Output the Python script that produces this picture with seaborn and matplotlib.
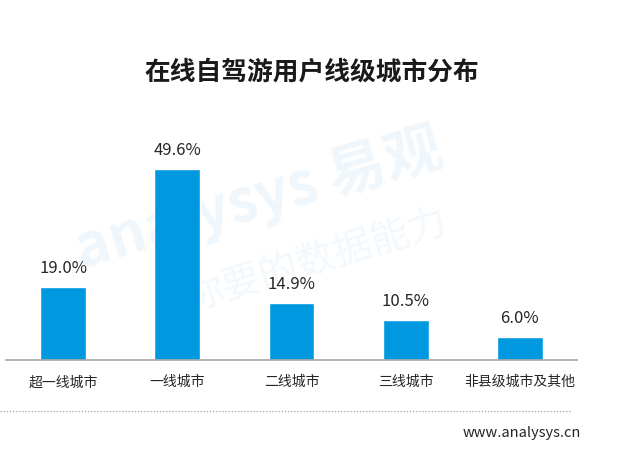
import matplotlib
matplotlib.use("Agg")
import matplotlib.pyplot as plt
import seaborn as sns
import pandas as pd

cities = ["超一线城市", "一线城市", "二线城市", "三线城市", "非县级城市及其他"]
shares = [19.0, 49.6, 14.9, 10.5, 6.0]
labels = ["19.0%", "49.6%", "14.9%", "10.5%", "6.0%"]

sns.set_style("white")
plt.rcParams["font.family"] = ["Noto Sans CJK SC", "DejaVu Sans"]

df = pd.DataFrame({"city": cities, "share": shares})

fig = plt.figure(figsize=(6.33, 4.49), dpi=100)
ax = fig.add_axes([6 / 633, 1 - 360 / 449, 571 / 633, 260 / 449])
ax.set_facecolor("none")

sns.barplot(data=df, x="city", y="share", color="#0098DF", saturation=1,
            width=0.4, ax=ax)

for i, (v, lab) in enumerate(zip(shares, labels)):
    ax.annotate(lab, (i, v), xytext=(0, 7), textcoords="offset points",
                ha="center", va="bottom", fontsize=12, color="#262626")

ax.set_xlim(-0.5, 4.5)
ax.set_ylim(0, 67.5)
ax.set_xlabel("")
ax.set_ylabel("")
ax.set_yticks([])
for s in ["top", "right", "left"]:
    ax.spines[s].set_visible(False)
ax.spines["bottom"].set_color("#a6a6a6")
ax.spines["bottom"].set_linewidth(1.2)
ax.tick_params(axis="x", length=0, pad=11, labelsize=10, labelcolor="#262626")

# watermark
fig.text(0.41, 0.555, "analysys 易观", fontsize=42, fontstyle="italic",
         fontweight="bold", color="#f0f7fc", rotation=16, ha="center",
         va="center", zorder=-1)
fig.text(0.50, 0.42, "你要的数据能力", fontsize=28, color="#f2f8fc",
         rotation=17, ha="center", va="center", zorder=-1)

fig.text(312 / 633, 1 - 72 / 449, "在线自驾游用户线级城市分布", fontsize=18.5,
         fontweight="bold", color="#1a1a1a", ha="center", va="center")

fig.add_artist(plt.Line2D([0, 571 / 633], [1 - 411 / 449, 1 - 411 / 449],
                          transform=fig.transFigure, color="#a0a0a0",
                          linestyle=(0, (1, 1.5)), linewidth=0.9))
fig.text(581 / 633, 1 - 433 / 449, "www.analysys.cn", fontsize=10.5,
         color="#262626", ha="right", va="center")

fig.savefig("out.png", dpi=100)
